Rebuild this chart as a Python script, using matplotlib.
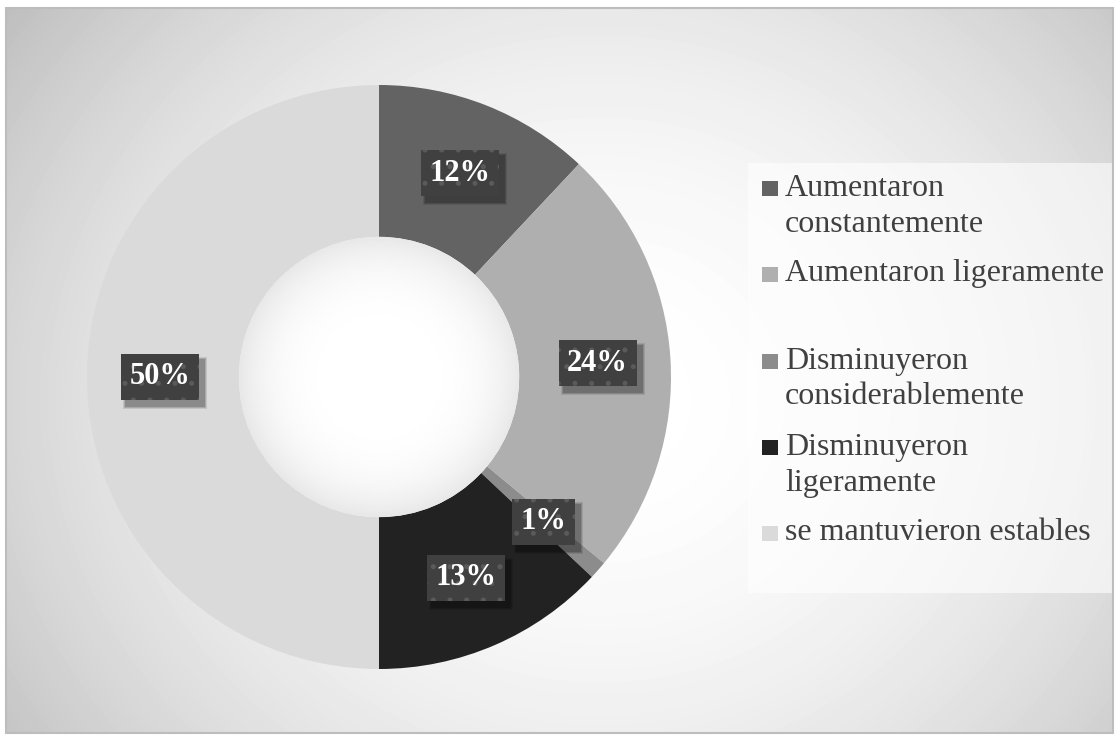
import numpy as np
import matplotlib
matplotlib.use("Agg")
import matplotlib.pyplot as plt
from matplotlib.patches import Rectangle, Circle

categorias = ["Aumentaron\nconstantemente",
              "Aumentaron ligeramente",
              "Disminuyeron\nconsiderablemente",
              "Disminuyeron\nligeramente",
              "se mantuvieron estables"]
valores = [12, 24, 1, 13, 50]
colores = ["#636363", "#afafaf", "#8c8c8c", "#222222", "#dadada"]

W, H = 1120, 742
plt.rcParams["font.family"] = ["Liberation Serif", "DejaVu Serif"]
plt.rcParams["hatch.linewidth"] = 1.2

fig = plt.figure(figsize=(W / 100, H / 100), dpi=100)
fig.patch.set_facecolor("white")


def fx(x):
    return x / W


def fy(y):
    return 1 - y / H


# Fondo con degradado radial (area del grafico)
x0, y0, x1, y1 = 6, 8, 1113, 733
bg = fig.add_axes([fx(x0), fy(y1), fx(x1 - x0), (y1 - y0) / H], zorder=0)
xx, yy = np.meshgrid(np.arange(x0, x1), np.arange(y0, y1))
d2 = ((xx - 600) / 590.0) ** 2 + ((yy - 400) / 523.0) ** 2
g = np.clip(255 - 41 * d2, 180, 255) / 255.0
bg.imshow(g, cmap="gray", vmin=0, vmax=1, aspect="auto",
          extent=[0, 1, 0, 1], interpolation="bilinear")
bg.set_xlim(0, 1)
bg.set_ylim(0, 1)
bg.axis("off")
fig.patches.append(Rectangle((fx(x0), fy(y1)), fx(x1 - x0), (y1 - y0) / H,
                             transform=fig.transFigure, fill=False,
                             edgecolor="#bdbdbd", lw=1.5, zorder=5))

# Anillo
cx, cy, R = 379, 377, 292
ax = fig.add_axes([fx(cx - R), fy(cy + R), 2 * R / W, 2 * R / H], zorder=2)
ax.patch.set_alpha(0)
wedges, _, autotexts = ax.pie(
    valores, colors=colores, startangle=90, counterclock=False,
    radius=1, wedgeprops=dict(width=0.52, linewidth=0),
    autopct=lambda p: f"{p:.0f}%", pctdistance=0.75,
    textprops=dict(color="white", fontsize=22, fontweight="bold"))

# hueco con degradado suave
hr = 0.48
n = 200
hx, hy = np.meshgrid(np.linspace(-1, 1, n), np.linspace(-1, 1, n))
hg = np.clip(1 - 0.09 * np.sqrt(hx ** 2 + hy ** 2) ** 4, 0, 1)
im = ax.imshow(hg, cmap="gray", vmin=0, vmax=1, extent=[-hr, hr, -hr, hr],
               interpolation="bilinear", zorder=1)
im.set_clip_path(Circle((0, 0), hr, transform=ax.transData))
ax.set_xlim(-1, 1)
ax.set_ylim(-1, 1)
ax.set_aspect("auto")

for t in autotexts:
    t.set_bbox(dict(boxstyle="square,pad=0.28", linewidth=0,
                    facecolor="#404040", edgecolor="#5a5a5a", hatch="."))
    t.set_zorder(5)

# sombras de las etiquetas (a partir de la caja ya dibujada)
fig.canvas.draw()
renderer = fig.canvas.get_renderer()
inv = ax.transData.inverted()
for t in autotexts:
    bb = t.get_bbox_patch().get_window_extent(renderer)
    for k, a in enumerate([0.10, 0.13, 0.18]):
        grow = 3 - k
        (sx0, sy0) = inv.transform((bb.x0 + 5 - grow, bb.y0 - 6 - grow))
        (sx1, sy1) = inv.transform((bb.x1 + 5 + grow, bb.y1 - 6 + grow))
        ax.add_patch(Rectangle((sx0, sy0), sx1 - sx0, sy1 - sy0,
                               facecolor="black", alpha=a,
                               edgecolor="none", zorder=4))

# Leyenda
lx0, ly0, lx1, ly1 = 748, 163, 1113, 593
fig.patches.append(Rectangle((fx(lx0), fy(ly1)), fx(lx1 - lx0), (ly1 - ly0) / H,
                             transform=fig.transFigure, facecolor="white",
                             alpha=0.6, edgecolor="none", zorder=3))
entrada_y = [188, 274, 361, 447, 533]
linea = 36
for cat, col, yy_ in zip(categorias, colores, entrada_y):
    fig.patches.append(Rectangle((fx(762), fy(yy_ + 8)), fx(16), 15 / H,
                                 transform=fig.transFigure, facecolor=col,
                                 edgecolor="none", zorder=4))
    for k, txt in enumerate(cat.split("\n")):
        fig.text(fx(785), fy(yy_ + k * linea), txt, fontsize=23,
                 color="#404040", va="center", ha="left", zorder=4)

fig.savefig("out.png", dpi=100)
